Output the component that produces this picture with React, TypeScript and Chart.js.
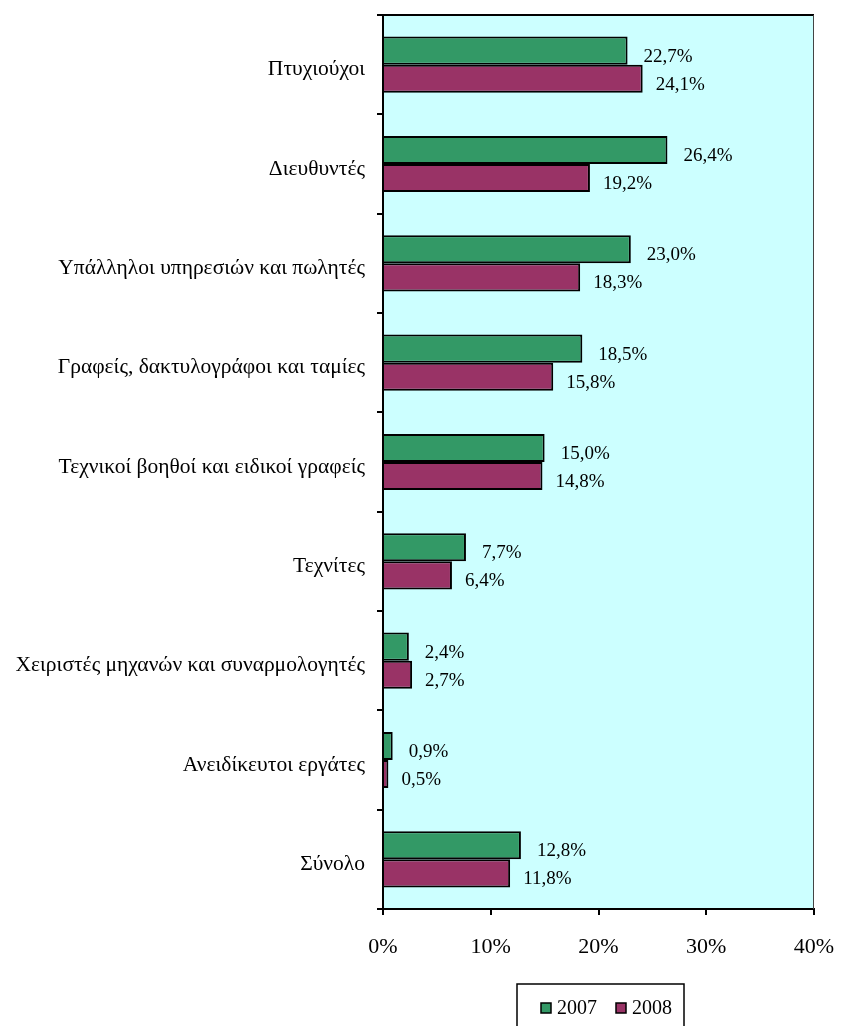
import React, { useEffect, useRef } from "react";
import { Chart, registerables } from "chart.js";

Chart.register(...registerables);

const categories = [
  "Πτυχιούχοι",
  "Διευθυντές",
  "Υπάλληλοι υπηρεσιών και πωλητές",
  "Γραφείς, δακτυλογράφοι και ταμίες",
  "Τεχνικοί βοηθοί και ειδικοί γραφείς",
  "Τεχνίτες",
  "Χειριστές μηχανών και συναρμολογητές",
  "Ανειδίκευτοι εργάτες",
  "Σύνολο",
];
const values2007 = [22.7, 26.4, 23.0, 18.5, 15.0, 7.7, 2.4, 0.9, 12.8];
const values2008 = [24.1, 19.2, 18.3, 15.8, 14.8, 6.4, 2.7, 0.5, 11.8];
const seriesNames = ["2007", "2008"];
const xTicks = [0, 10, 20, 30, 40];

const FONT = "'Liberation Serif', 'Times New Roman', serif";
const GREEN = "#339966";
const MAROON = "#993366";

const fmt = (v: number) => v.toFixed(1).replace(".", ",") + "%";

const framePlugin = {
  id: "frame",
  beforeDraw(chart: any) {
    const { ctx, chartArea: a } = chart;
    ctx.save();
    ctx.fillStyle = "#CCFFFF";
    ctx.fillRect(a.left, a.top, a.right - a.left, a.bottom - a.top);
    ctx.restore();
  },
  afterDatasetsDraw(chart: any) {
    const { ctx, chartArea: a } = chart;
    ctx.save();
    ctx.strokeStyle = "#000";
    ctx.lineWidth = 2;
    ctx.beginPath();
    ctx.moveTo(a.left, a.top);
    ctx.lineTo(a.right, a.top);
    ctx.stroke();
    ctx.lineWidth = 1;
    ctx.strokeStyle = "#444";
    ctx.beginPath();
    ctx.moveTo(a.right - 0.5, a.top);
    ctx.lineTo(a.right - 0.5, a.bottom);
    ctx.stroke();
    // data labels
    ctx.fillStyle = "#000";
    ctx.font = `19px ${FONT}`;
    ctx.textAlign = "left";
    ctx.textBaseline = "middle";
    chart.data.datasets.forEach((ds: any, i: number) => {
      const meta = chart.getDatasetMeta(i);
      meta.data.forEach((bar: any, j: number) => {
        const v = ds.data[j];
        const off = i === 0 ? 16 : 13;
        ctx.fillText(fmt(v), bar.x + off, bar.y + 6);
      });
    });
    ctx.restore();
  },
  afterDraw(chart: any) {
    const { ctx } = chart;
    ctx.save();
    // legend box
    const bx = 517, by = 984, bw = 167, bh = 60;
    ctx.strokeStyle = "#000";
    ctx.lineWidth = 1.5;
    ctx.strokeRect(bx, by, bw, bh);
    ctx.font = `20px ${FONT}`;
    ctx.textBaseline = "middle";
    ctx.textAlign = "left";
    let x = bx + 24;
    const y = 1009;
    chart.data.datasets.forEach((ds: any) => {
      ctx.fillStyle = ds.backgroundColor;
      ctx.fillRect(x, y - 6, 10, 10);
      ctx.lineWidth = 1.5;
      ctx.strokeStyle = "#000";
      ctx.strokeRect(x, y - 6, 10, 10);
      ctx.fillStyle = "#000";
      ctx.fillText(ds.label, x + 16, y);
      x += 75;
    });
    ctx.restore();
  },
};

export default function App() {
  const ref = useRef<HTMLCanvasElement>(null);
  useEffect(() => {
    if (!ref.current) return;
    const chart = new Chart(ref.current, {
      type: "bar",
      data: {
        labels: categories,
        datasets: [
          {
            label: seriesNames[0],
            data: values2007,
            backgroundColor: GREEN,
            borderColor: "#000",
            borderWidth: 2,
            categoryPercentage: 0.565,
            barPercentage: 1,
          },
          {
            label: seriesNames[1],
            data: values2008,
            backgroundColor: MAROON,
            borderColor: "#000",
            borderWidth: 2,
            categoryPercentage: 0.565,
            barPercentage: 1,
          },
        ],
      },
      options: {
        indexAxis: "y",
        responsive: false,
        animation: false,
        layout: { padding: { top: 15, right: 27, left: 0, bottom: 0 } },
        plugins: { legend: { display: false }, tooltip: { enabled: false } },
        scales: {
          x: {
            min: 0,
            max: 40,
            afterBuildTicks: (s: any) => {
              s.ticks = xTicks.map((v) => ({ value: v }));
            },
            afterFit: (s: any) => {
              s.height = 117;
              s.paddingLeft = 0;
              s.paddingRight = 0;
            },
            ticks: {
              callback: (v: any) => v + "%",
              color: "#000",
              font: { family: FONT, size: 22 },
              padding: 19,
              maxRotation: 0,
            },
            grid: {
              drawOnChartArea: false,
              drawTicks: true,
              tickLength: 6,
              color: "#000",
              lineWidth: 2,
            },
            border: { color: "#000", width: 2 },
          },
          y: {
            afterFit: (s: any) => {
              s.width = 383;
              s.paddingTop = 0;
              s.paddingBottom = 0;
            },
            ticks: {
              color: "#000",
              font: { family: FONT, size: 21.5 },
              padding: 12,
              labelOffset: 5,
            },
            grid: {
              drawOnChartArea: false,
              drawTicks: true,
              tickLength: 6,
              color: "#000",
              lineWidth: 2,
              offset: true,
            },
            border: { color: "#000", width: 2 },
          },
        },
      },
      plugins: [framePlugin],
    });
    return () => chart.destroy();
  }, []);
  return (
    <div style={{ position: "absolute", left: 0, top: 0, width: 841, height: 1026, background: "#fff" }}>
      <canvas ref={ref} width={841} height={1026} style={{ display: "block" }} />
    </div>
  );
}
